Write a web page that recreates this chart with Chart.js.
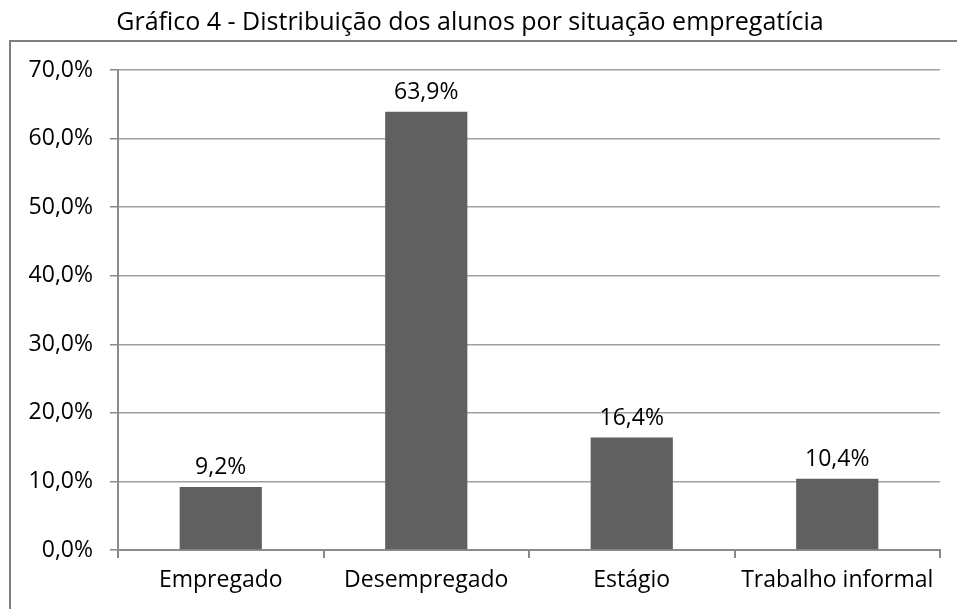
<!DOCTYPE html>
<html>
<head>
<meta charset="utf-8">
<script src="https://cdn.jsdelivr.net/npm/chart.js"></script>
<style>
html, body { margin: 0; padding: 0; background: #fff; }
#wrap { width: 957px; height: 609px; }
</style>
</head>
<body>
<div id="wrap"><canvas id="grafico"></canvas></div>
<script>
// dados
const categorias = ['Empregado', 'Desempregado', 'Estágio', 'Trabalho informal'];
const percentuais = [9.2, 63.9, 16.4, 10.4];
const tituloGrafico = 'Gráfico 4 - Distribuição dos alunos por situação empregatícia';
const eixoMin = 0;
const eixoMax = 70;
const eixoPasso = 10;

const fonte = "'Open Sans', 'Noto Sans', sans-serif";
const tamFonte = 23;
const formatar = v => v.toFixed(1).replace('.', ',') + '%';

// moldura do gráfico (só aparecem a borda esquerda e a de cima)
const moldura = {
  id: 'moldura',
  beforeDraw(chart) {
    const ctx = chart.ctx;
    ctx.save();
    ctx.strokeStyle = '#7f7f7f';
    ctx.lineWidth = 2;
    ctx.strokeRect(10, 41, chart.width + 20, chart.height + 20);
    ctx.restore();
  }
};

// rótulos de valor em cima das barras
const rotulos = {
  id: 'rotulos',
  afterDatasetsDraw(chart) {
    const ctx = chart.ctx;
    const meta = chart.getDatasetMeta(0);
    ctx.save();
    ctx.font = tamFonte + 'px ' + fonte;
    ctx.fillStyle = '#000';
    ctx.textAlign = 'center';
    ctx.textBaseline = 'alphabetic';
    meta.data.forEach((barra, i) => {
      ctx.fillText(formatar(percentuais[i]), barra.x, barra.y - 13);
    });
    ctx.restore();
  }
};

new Chart(document.querySelector('#grafico'), {
  type: 'bar',
  data: {
    labels: categorias,
    datasets: [{
      data: percentuais,
      backgroundColor: '#606060',
      borderWidth: 0,
      barPercentage: 0.4,
      categoryPercentage: 1
    }]
  },
  options: {
    responsive: true,
    maintainAspectRatio: false,
    animation: false,
    devicePixelRatio: 1,
    layout: { padding: { left: 0, right: 17, top: 0, bottom: 0 } },
    plugins: {
      legend: { display: false },
      tooltip: { enabled: false },
      title: {
        display: true,
        text: tituloGrafico,
        color: '#000',
        font: { family: fonte, size: 25, weight: 'normal' },
        padding: { top: 8, bottom: 32 }
      }
    },
    scales: {
      x: {
        grid: { offset: true, drawOnChartArea: false, tickLength: 8, color: '#888', lineWidth: 2 },
        border: { color: '#8c8c8c', width: 2 },
        ticks: { color: '#000', font: { family: fonte, size: tamFonte }, padding: 9, maxRotation: 0 },
        afterFit(scale) { scale.height = 59; }
      },
      y: {
        min: eixoMin,
        max: eixoMax,
        grid: { color: '#a0a0a0', lineWidth: 1.5, tickLength: 8, tickColor: '#888' },
        border: { color: '#8c8c8c', width: 2 },
        ticks: {
          stepSize: eixoPasso,
          color: '#000',
          font: { family: fonte, size: tamFonte },
          padding: 17,
          callback: v => formatar(v)
        },
        afterFit(scale) { scale.width = 118; }
      }
    }
  },
  plugins: [moldura, rotulos]
});
</script>
</body>
</html>
